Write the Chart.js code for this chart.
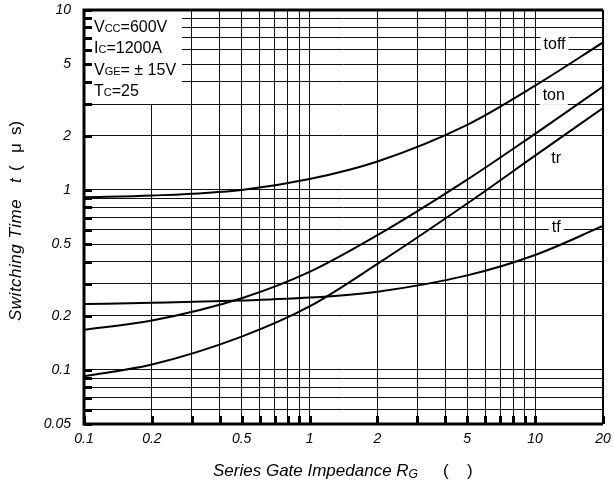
<!DOCTYPE html>
<html>
<head>
<meta charset="utf-8">
<script src="https://cdn.jsdelivr.net/npm/chart.js@4.4.1/dist/chart.umd.min.js"></script>
<style>
  html, body { margin: 0; padding: 0; background: #fff; }
  canvas { display: block; }
</style>
</head>
<body>
<canvas id="switching" width="613" height="486"></canvas>
<script>
// gate resistance (ohm) where the curves were read
const gateR = [0.1, 0.2, 0.5, 1, 2, 5, 10, 20];
// switching times in us
const tOff = [0.91, 0.93, 1.0, 1.15, 1.44, 2.3, 3.8, 6.6];
const tOn  = [0.167, 0.188, 0.25, 0.35, 0.56, 1.14, 2.05, 3.75];
const tR   = [0.092, 0.107, 0.153, 0.225, 0.388, 0.84, 1.55, 2.85];
const tF   = [0.232, 0.236, 0.243, 0.252, 0.272, 0.335, 0.435, 0.63];

const xGrid = [0.1, 0.2, 0.3, 0.4, 0.5, 0.6, 0.7, 0.8, 0.9, 1, 2, 3, 4, 5, 6, 7, 8, 9, 10, 20];
const xLabels = [0.1, 0.2, 0.5, 1, 2, 5, 10, 20];
const yGrid = [0.05, 0.06, 0.07, 0.08, 0.09, 0.1, 0.2, 0.3, 0.4, 0.5, 0.6, 0.7, 0.8, 0.9,
               1, 2, 3, 4, 5, 6, 7, 8, 9, 10];
const yLabels = [0.05, 0.1, 0.2, 0.5, 1, 2, 5, 10];

// curve names and where they sit (x, y in data units)
const curveNames = ['toff', 'ton', 'tr', 'tf'];
const nameAt = [[12.2, 6.45], [12.1, 3.33], [12.4, 1.5], [12.4, 0.62]];

const FONT = "'Liberation Sans', Arial, sans-serif";

function pts(ys) {
  return gateR.map((x, i) => ({ x: x, y: ys[i] }));
}

function line(ys) {
  return {
    data: pts(ys),
    borderColor: '#000',
    borderWidth: 2,
    pointRadius: 0,
    fill: false,
    cubicInterpolationMode: 'monotone'
  };
}

// draws "V" + small "CC" + "=600V" style text
function subText(ctx, parts, x, y, big, small, style) {
  parts.forEach(p => {
    const sz = p[1] ? small : big;
    ctx.font = (style || '') + ' ' + sz + 'px ' + FONT;
    ctx.fillText(p[0], x, y);
    x += ctx.measureText(p[0]).width;
  });
  return x;
}

const overlay = {
  id: 'overlay',
  beforeDatasetsDraw(chart) {
    const ctx = chart.ctx;
    const a = chart.chartArea;
    const xs = chart.scales.x, ys = chart.scales.y;
    ctx.save();
    // condition box
    ctx.fillStyle = '#fff';
    ctx.fillRect(a.left, a.top, 98, 94);
    ctx.fillStyle = '#000';
    ctx.textBaseline = 'alphabetic';
    ctx.textAlign = 'left';
    subText(ctx, [['V'], ['CC', 1], ['=600V']], a.left + 10, 32, 16, 11);
    subText(ctx, [['I'], ['C', 1], ['=1200A']], a.left + 10, 53, 16, 11);
    subText(ctx, [['V'], ['GE', 1], ['= \u00b1 15V']], a.left + 10, 75, 16, 11);
    subText(ctx, [['T'], ['C', 1], ['=25']], a.left + 10, 96, 16, 11);

    // curve names on white patches
    ctx.font = '16px ' + FONT;
    ctx.textAlign = 'center';
    ctx.textBaseline = 'middle';
    curveNames.forEach((n, i) => {
      const px = xs.getPixelForValue(nameAt[i][0]);
      const py = ys.getPixelForValue(nameAt[i][1]);
      const w = ctx.measureText(n).width + 6;
      ctx.fillStyle = '#fff';
      ctx.fillRect(px - w / 2, py - 9, w, 18);
      ctx.fillStyle = '#000';
      ctx.fillText(n, px, py);
    });
    ctx.restore();
  },
  afterDatasetsDraw(chart) {
    const ctx = chart.ctx;
    const a = chart.chartArea;
    const xs = chart.scales.x, ys = chart.scales.y;
    ctx.save();
    ctx.strokeStyle = '#000';
    // thick inner ticks
    ctx.lineWidth = 3;
    ctx.beginPath();
    yGrid.forEach(v => {
      const py = Math.round(ys.getPixelForValue(v)) + 0.5;
      ctx.moveTo(a.left, py);
      ctx.lineTo(a.left + 8, py);
    });
    xGrid.forEach(v => {
      const px = Math.round(xs.getPixelForValue(v)) + 0.5;
      ctx.moveTo(px, a.bottom);
      ctx.lineTo(px, a.bottom - 8);
    });
    ctx.stroke();
    // frame
    ctx.lineWidth = 3;
    ctx.beginPath();
    ctx.moveTo(a.right, a.top);
    ctx.lineTo(a.left, a.top);
    ctx.lineTo(a.left, a.bottom);
    ctx.lineTo(a.right, a.bottom);
    ctx.stroke();
    ctx.lineWidth = 2;
    ctx.beginPath();
    ctx.moveTo(a.right, a.top);
    ctx.lineTo(a.right, a.bottom);
    ctx.stroke();

    // x axis title
    ctx.fillStyle = '#000';
    ctx.textBaseline = 'alphabetic';
    ctx.textAlign = 'left';
    const xe = subText(ctx, [['Series Gate Impedance R']], 213, 476, 17, 12, 'italic');
    subText(ctx, [['G', 1]], xe, 478, 17, 12, 'italic');
    subText(ctx, [['(']], 443, 476, 17, 12, '');
    subText(ctx, [[')']], 467, 476, 17, 12, '');

    // y axis title, rotated, starting at the bottom
    ctx.translate(21, 321);
    ctx.rotate(-Math.PI / 2);
    ctx.letterSpacing = '0.5px';
    subText(ctx, [['Switching Time']], 0, 0, 17, 12, 'italic');
    subText(ctx, [['t']], 138, 0, 17, 12, 'italic');
    ctx.letterSpacing = '0px';
    subText(ctx, [['(']], 150, 0, 17, 12, '');
    subText(ctx, [['\u03bc']], 168, 0, 17, 12, '');
    subText(ctx, [['s)']], 186, 0, 17, 12, '');
    ctx.restore();
  }
};

new Chart(document.getElementById('switching'), {
  type: 'line',
  data: {
    datasets: [line(tOff), line(tOn), line(tR), line(tF)]
  },
  options: {
    responsive: false,
    animation: false,
    layout: { padding: { left: 0, right: 10, top: 10, bottom: 0 } },
    plugins: { legend: { display: false }, tooltip: { enabled: false } },
    scales: {
      x: {
        type: 'logarithmic',
        min: 0.1,
        max: 20,
        afterBuildTicks: s => { s.ticks = xGrid.map(v => ({ value: v })); },
        afterFit: s => {
          s.height = 62;
          s.paddingLeft = 0;
          s.paddingRight = 0;
        },
        ticks: {
          autoSkip: false,
          maxRotation: 0,
          padding: 7,
          color: '#000',
          font: { family: FONT, size: 14, style: 'italic' },
          callback: v => xLabels.includes(v) ? String(v) : ''
        },
        grid: { color: '#111', lineWidth: 1, drawTicks: false },
        border: { display: false }
      },
      y: {
        type: 'logarithmic',
        min: 0.05,
        max: 10,
        afterBuildTicks: s => { s.ticks = yGrid.map(v => ({ value: v })); },
        afterFit: s => {
          s.width = 84;
          s.paddingTop = 0;
          s.paddingBottom = 0;
        },
        ticks: {
          autoSkip: false,
          padding: 13,
          color: '#000',
          font: { family: FONT, size: 14, style: 'italic' },
          callback: v => yLabels.includes(v) ? String(v) : ''
        },
        grid: { color: '#111', lineWidth: 1, drawTicks: false },
        border: { display: false }
      }
    }
  },
  plugins: [overlay]
});
</script>
</body>
</html>
